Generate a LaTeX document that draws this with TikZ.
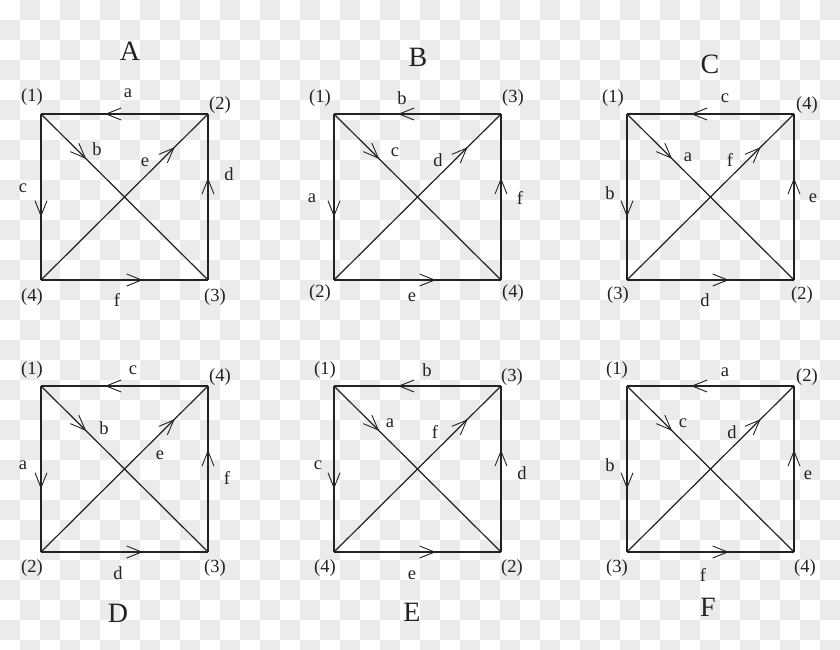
\documentclass[tikz,border=0pt]{standalone}
\usepackage{fontspec}
\setmainfont{Liberation Serif}
\usetikzlibrary{arrows.meta,decorations.markings}
\definecolor{linec}{HTML}{222222}
\definecolor{checkgray}{HTML}{EBEBEB}
\tikzset{
  edge/.style={draw=linec, line width=1.2pt},
  arr/.style={postaction={decorate}, decoration={markings,
      mark=at position #1 with {\arrow{Straight Barb[length=15pt,width=12pt,line width=0.9pt]}}}},
  lbl/.style={text=linec, font=\fontsize{18.5}{18.5}\selectfont, inner sep=0pt},
  ttl/.style={text=linec, font=\fontsize{28}{28}\selectfont, inner sep=0pt},
}
\newcommand{\sqpanel}[1]{%
  \coordinate (#1TL) at (0,0);
  \coordinate (#1TR) at (167,0);
  \coordinate (#1BR) at (167,166);
  \coordinate (#1BL) at (0,166);
  \draw[edge, arr=0.617] (#1TR) -- (#1TL);
  \draw[edge, arr=0.62] (#1TL) -- (#1BL);
  \draw[edge, arr=0.615] (#1BR) -- (#1TR);
  \draw[edge, arr=0.61] (#1BL) -- (#1BR);
  \draw[edge, arr=0.27] (#1TL) -- (#1BR);
  \draw[edge, arr=0.80] (#1BL) -- (#1TR);
}
\begin{document}
\begin{tikzpicture}[x=1pt,y=-1pt]
\useasboundingbox (0,0) rectangle (840,650);
\fill[white] (0,0) rectangle (840,650);
\foreach \i in {0,...,41}{
  \foreach \j in {0,...,32}{
    \pgfmathtruncatemacro{\cellparity}{mod(\i+\j,2)}
    \ifnum\cellparity=1 \fill[checkgray] (\i*20,\j*20) rectangle ++(20,20);\fi
  }
}
% Panel A
\begin{scope}[shift={(41,114)}]
  \sqpanel{A}
  \node[ttl] (tA) at (89,-63) {A};
  \node[lbl] (A1) at (-9,-17) {(1)};
  \node[lbl] (A2) at (179,-9) {(2)};
  \node[lbl] (A3) at (174,183) {(3)};
  \node[lbl] (A4) at (-9,183) {(4)};
  \node[lbl] (Aa) at (87,-21) {a};
  \node[lbl] (Ab) at (56,35) {b};
  \node[lbl] (Ae) at (104,48) {e};
  \node[lbl] (Ac) at (-18,74) {c};
  \node[lbl] (Ad) at (188,60) {d};
  \node[lbl] (Af) at (76,186) {f};
\end{scope}
% Panel B
\begin{scope}[shift={(334,114)}]
  \sqpanel{B}
  \node[ttl] (tB) at (84,-57) {B};
  \node[lbl] (B1) at (-14,-16) {(1)};
  \node[lbl] (B3) at (179,-16) {(3)};
  \node[lbl] (B2) at (-14,179) {(2)};
  \node[lbl] (B4) at (179,179) {(4)};
  \node[lbl] (Bb) at (68,-16) {b};
  \node[lbl] (Bc) at (61,38) {c};
  \node[lbl] (Bd) at (104,46) {d};
  \node[lbl] (Ba) at (-22,84) {a};
  \node[lbl] (Bf) at (186,84) {f};
  \node[lbl] (Be) at (78,183) {e};
\end{scope}
% Panel C
\begin{scope}[shift={(627,114)}]
  \sqpanel{C}
  \node[ttl] (tC) at (83,-50) {C};
  \node[lbl] (C1) at (-14,-16) {(1)};
  \node[lbl] (C4) at (180,-9) {(4)};
  \node[lbl] (C3) at (-9,181) {(3)};
  \node[lbl] (C2) at (175,181) {(2)};
  \node[lbl] (Cc) at (98,-16) {c};
  \node[lbl] (Ca) at (61,43) {a};
  \node[lbl] (Cf) at (103,46) {f};
  \node[lbl] (Cb) at (-17,79) {b};
  \node[lbl] (Ce) at (186,84) {e};
  \node[lbl] (Cd) at (78,186) {d};
\end{scope}
% Panel D
\begin{scope}[shift={(41,386)}]
  \sqpanel{D}
  \node[ttl] (tD) at (77,227) {D};
  \node[lbl] (D1) at (-9,-16) {(1)};
  \node[lbl] (D4) at (179,-9) {(4)};
  \node[lbl] (D2) at (-9,182) {(2)};
  \node[lbl] (D3) at (174,182) {(3)};
  \node[lbl] (Dc) at (92,-16) {c};
  \node[lbl] (Db) at (63,42) {b};
  \node[lbl] (De) at (119,69) {e};
  \node[lbl] (Da) at (-18,79) {a};
  \node[lbl] (Df) at (186,92) {f};
  \node[lbl] (Dd) at (77,187) {d};
\end{scope}
% Panel E
\begin{scope}[shift={(334,386)}]
  \sqpanel{E}
  \node[ttl] (tE) at (78,226) {E};
  \node[lbl] (E1) at (-9,-16) {(1)};
  \node[lbl] (E3) at (178,-9) {(3)};
  \node[lbl] (E4) at (-9,182) {(4)};
  \node[lbl] (E2) at (178,182) {(2)};
  \node[lbl] (Eb) at (93,-16) {b};
  \node[lbl] (Ea) at (56,37) {a};
  \node[lbl] (Ef) at (101,46) {f};
  \node[lbl] (Ec) at (-16,79) {c};
  \node[lbl] (Ed) at (188,87) {d};
  \node[lbl] (Ee) at (78,189) {e};
\end{scope}
% Panel F
\begin{scope}[shift={(627,386)}]
  \sqpanel{F}
  \node[ttl] (tF) at (81,221) {F};
  \node[lbl] (F1) at (-10,-16) {(1)};
  \node[lbl] (F2) at (180,-9) {(2)};
  \node[lbl] (F3) at (-10,182) {(3)};
  \node[lbl] (F4) at (178,182) {(4)};
  \node[lbl] (Fa) at (98,-14) {a};
  \node[lbl] (Fc) at (56,37) {c};
  \node[lbl] (Fd) at (105,46) {d};
  \node[lbl] (Fb) at (-17,79) {b};
  \node[lbl] (Fe) at (181,89) {e};
  \node[lbl] (Ff) at (76,189) {f};
\end{scope}
\end{tikzpicture}
\end{document}
